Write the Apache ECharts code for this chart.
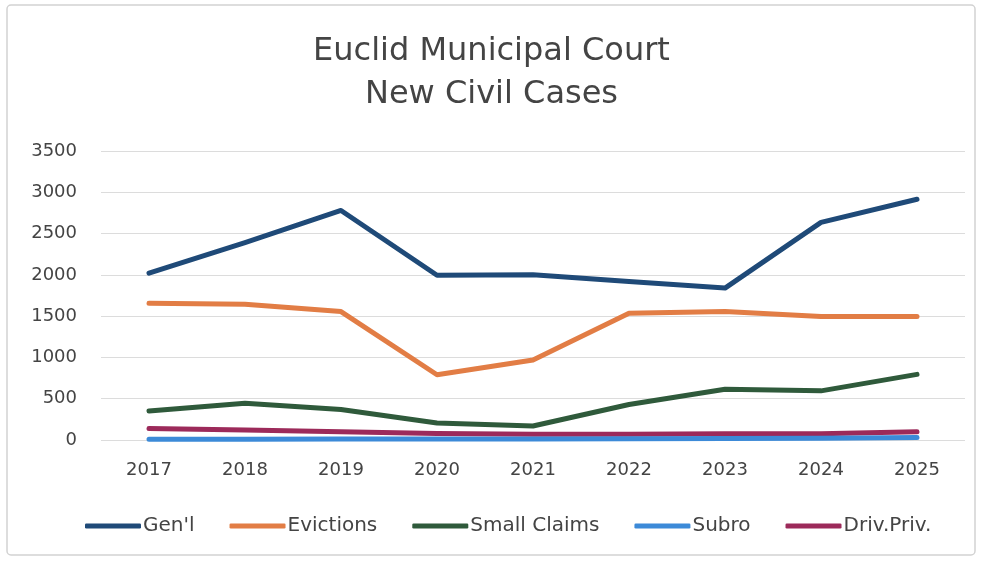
<!DOCTYPE html>
<html><head><meta charset="utf-8">
<script src="https://cdn.jsdelivr.net/npm/echarts@6/dist/echarts.min.js"></script>
<style>html,body{margin:0;padding:0;background:#fff}#c{width:983px;height:562px}</style>
</head><body><div id="c"></div>
<script>
const years = ['2017','2018','2019','2020','2021','2022','2023','2024','2025'];
const genl = [2020, 2390, 2780, 1995, 2000, 1920, 1840, 2635, 2915];
const evictions = [1655, 1645, 1555, 790, 970, 1535, 1555, 1495, 1495];
const smallClaims = [350, 445, 370, 205, 170, 430, 615, 595, 795];
const subro = [10, 10, 12, 12, 12, 15, 18, 20, 30];
const drivPriv = [140, 120, 100, 80, 70, 70, 75, 75, 100];
const seriesNames = ["Gen'l", 'Evictions', 'Small Claims', 'Subro', 'Driv.Priv.'];
const seriesData = [genl, evictions, smallClaims, subro, drivPriv];
const colors = ['#1f4a78', '#e27d45', '#2f5a3b', '#3c8ad8', '#9c2a5a'];
const font = 'DejaVu Sans';
const chart = echarts.init(document.getElementById('c'));
chart.setOption({
  animation: false,
  backgroundColor: '#fff',
  color: colors,
  graphic: [{type:'rect', shape:{x:7,y:5,width:968,height:550,r:4}, style:{fill:'none', stroke:'#d2d2d2', lineWidth:1.5}}],
  title: {text: 'Euclid Municipal Court\nNew Civil Cases', left: 'center', top: 25,
    textStyle: {fontFamily: font, fontSize: 32, fontWeight: 'normal', color: '#444', lineHeight: 43}},
  legend: {top: 511, left: 80, itemWidth: 56, itemHeight: 5, itemGap: 35, icon: 'roundRect',
    textStyle: {fontFamily: font, fontSize: 20, color: '#444', padding: [0,0,0,-3]}, data: seriesNames},
  grid: {left: 101, right: 18, top: 151, bottom: 122},
  xAxis: {type: 'category', data: years, boundaryGap: true,
    axisLine: {show: false}, axisTick: {show: false},
    axisLabel: {fontFamily: font, fontSize: 18, color: '#444', margin: 21}},
  yAxis: {type: 'value', min: 0, max: 3500, interval: 500,
    axisLine: {show: false}, axisTick: {show: false},
    axisLabel: {fontFamily: font, fontSize: 18, color: '#444', margin: 24, formatter: v => String(v)},
    splitLine: {lineStyle: {color: '#dcdcdc', width: 1}}},
  series: seriesNames.map((n, i) => ({name: n, type: 'line', data: seriesData[i], symbol: 'none',
    lineStyle: {width: 5, color: colors[i], cap: 'round', join: 'round'}, z: 10 - i}))
});
</script></body></html>
